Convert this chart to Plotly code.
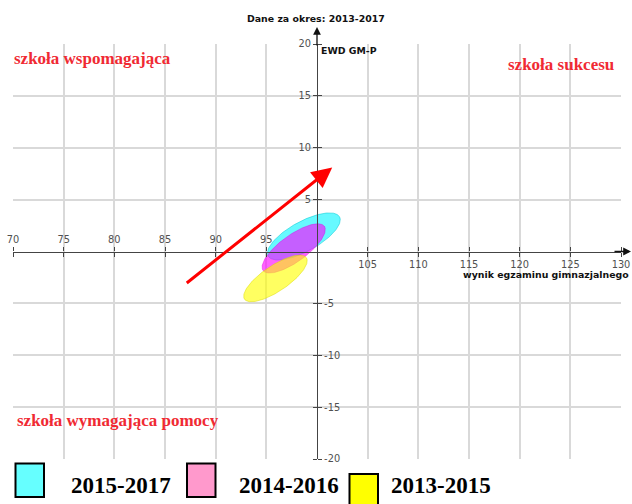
import numpy as np
import plotly.graph_objects as go

# ---------------- data ----------------
periods = ["2015-2017", "2014-2016", "2013-2015"]
center_x = [98.7, 97.7, 95.9]      # wynik egzaminu gimnazjalnego
center_y = [1.45, 0.3, -2.6]       # EWD GM-P
semi_major = [4.0, 3.7, 3.65]
semi_minor = [1.45, 1.3, 1.25]
tilt_deg = [28, 35, 33]
fill_colors = ["rgba(0,245,255,0.6)", "rgba(255,0,255,0.62)", "rgba(255,255,0,0.62)"]
edge_colors = ["rgba(0,200,210,0.5)", "rgba(220,0,220,0.4)", "rgba(220,220,0,0.5)"]
legend_colors = ["#66ffff", "#ff99cc", "#ffff00"]

x_ticks = [70, 75, 80, 85, 90, 95, 105, 110, 115, 120, 125, 130]
y_ticks = [-20, -15, -10, -5, 5, 10, 15, 20]

trend_start = [87.0, -3.15]
trend_end = [101.5, 8.1]

quadrant_labels = ["szkoła wspomagająca", "szkoła sukcesu", "szkoła wymagająca pomocy"]

# ---------------- layout geometry ----------------
W, H = 632, 504
ML, MR, MT, MB = 13, 11, 44, 45
PW, PH = W - ML - MR, H - MT - MB


def pxx(px):
    return (px - ML) / PW


def pxy(py):
    return (H - MB - py) / PH


fig = go.Figure()

t = np.linspace(0, 2 * np.pi, 200)
for i in range(len(periods)):
    th = np.radians(tilt_deg[i])
    a, b = semi_major[i], semi_minor[i]
    ex = center_x[i] + a * np.cos(t) * np.cos(th) - b * np.sin(t) * np.sin(th)
    ey = center_y[i] + a * np.cos(t) * np.sin(th) + b * np.sin(t) * np.cos(th)
    fig.add_trace(go.Scatter(x=ex, y=ey, mode="lines", fill="toself",
                             fillcolor=fill_colors[i],
                             line=dict(color=edge_colors[i], width=1),
                             name=periods[i], hoverinfo="skip", showlegend=False))

# dummy trace for overlay axes
fig.add_trace(go.Scatter(x=[None], y=[None], xaxis="x2", yaxis="y2", showlegend=False))

axcol = "#444444"
gridcol = "#d9d9d9"
tickfont = dict(family="DejaVu Sans", size=9.8, color="#505050")

left_x_text = [str(v) if v < 100 else "" for v in x_ticks]
right_x_text = [str(v) if v > 100 else "" for v in x_ticks]
top_y_text = [str(v) if v > 0 else "" for v in y_ticks]
bot_y_text = [str(v) if v < 0 else "" for v in y_ticks]

common_x = dict(range=[70, 130], anchor="free", position=0.5, tickmode="array",
                tickvals=x_ticks, ticks="outside", ticklen=4, tickcolor=axcol,
                tickwidth=1, showline=True, linecolor=axcol, linewidth=1.3,
                zeroline=False, tickfont=tickfont, automargin=False, fixedrange=True)
common_y = dict(range=[-20, 20], anchor="free", position=0.5, tickmode="array",
                tickvals=y_ticks, ticks="outside", ticklen=4, tickcolor=axcol,
                tickwidth=1, showline=True, linecolor=axcol, linewidth=1.3,
                zeroline=False, tickfont=tickfont, automargin=False, fixedrange=True)

fig.update_layout(
    width=W, height=H,
    margin=dict(l=ML, r=MR, t=MT, b=MB, autoexpand=False),
    paper_bgcolor="white", plot_bgcolor="white",
    showlegend=False,
    xaxis=dict(**common_x, side="top", ticktext=left_x_text,
               showgrid=True, gridcolor=gridcol, gridwidth=1.5),
    xaxis2=dict(**common_x, side="bottom", ticktext=right_x_text,
                overlaying="x", showgrid=False),
    yaxis=dict(**common_y, side="left", ticktext=top_y_text,
               showgrid=True, gridcolor=gridcol, gridwidth=1.5),
    yaxis2=dict(**common_y, side="right", ticktext=bot_y_text,
                overlaying="y", showgrid=False),
)

annotations = []
# trend arrow
annotations.append(dict(x=trend_end[0], y=trend_end[1], ax=trend_start[0], ay=trend_start[1],
                        xref="x", yref="y", axref="x", ayref="y", text="",
                        showarrow=True, arrowhead=2, arrowsize=1.35, arrowwidth=3,
                        arrowcolor="#ff0000", standoff=0))
# axis arrows
annotations.append(dict(x=0.5, y=pxy(27), xref="paper", yref="paper", ax=0, ay=20,
                        text="", showarrow=True, arrowhead=2, arrowsize=1.2,
                        arrowwidth=1.3, arrowcolor="#111111", standoff=0))
annotations.append(dict(x=pxx(631), y=0.5, xref="paper", yref="paper", ax=-18, ay=0,
                        text="", showarrow=True, arrowhead=2, arrowsize=1.2,
                        arrowwidth=1.3, arrowcolor="#111111", standoff=0))

boldsans = dict(family="DejaVu Sans", size=9.4, color="#111111")
annotations.append(dict(x=pxx(316), y=pxy(18), xref="paper", yref="paper",
                        text="<b>Dane za okres: 2013-2017</b>", showarrow=False,
                        font=boldsans, xanchor="center", yanchor="middle"))
annotations.append(dict(x=pxx(319), y=pxy(50.5), xref="paper", yref="paper",
                        text="<b>EWD GM-P</b>", showarrow=False,
                        font=boldsans, xanchor="left", yanchor="middle"))
annotations.append(dict(x=pxx(631), y=pxy(274), xref="paper", yref="paper",
                        text="<b>wynik egzaminu gimnazjalnego</b>", showarrow=False,
                        font=boldsans, xanchor="right", yanchor="middle"))

redfont = dict(family="Liberation Serif", size=17, color="#f02a33")
annotations.append(dict(x=pxx(12), y=pxy(58), xref="paper", yref="paper",
                        text="<b>" + quadrant_labels[0] + "</b>", showarrow=False,
                        font=redfont, xanchor="left", yanchor="middle"))
annotations.append(dict(x=pxx(616), y=pxy(64), xref="paper", yref="paper",
                        text="<b>" + quadrant_labels[1] + "</b>", showarrow=False,
                        font=redfont, xanchor="right", yanchor="middle"))
annotations.append(dict(x=pxx(15), y=pxy(420), xref="paper", yref="paper",
                        text="<b>" + quadrant_labels[2] + "</b>", showarrow=False,
                        font=redfont, xanchor="left", yanchor="middle"))

# legend (boxes + labels)
box_left = [15.5, 187, 349.5]
box_top = [463.5, 463.5, 474]
text_center = [121, 289, 441]
shapes = []
for i in range(len(periods)):
    shapes.append(dict(type="rect", xref="paper", yref="paper",
                       x0=pxx(box_left[i]), x1=pxx(box_left[i] + 28.5),
                       y0=pxy(box_top[i]), y1=pxy(box_top[i] + 33.5),
                       fillcolor=legend_colors[i], line=dict(color="#000000", width=2)))
    annotations.append(dict(x=pxx(text_center[i]), y=pxy(485), xref="paper", yref="paper",
                            text="<b>" + periods[i] + "</b>", showarrow=False,
                            font=dict(family="Liberation Serif", size=23, color="#000000"),
                            xanchor="center", yanchor="middle"))

fig.update_layout(annotations=annotations, shapes=shapes)

fig.write_html("out.html", config={"displayModeBar": False},
               post_script="document.body.style.margin='0';document.body.style.overflow='hidden';")
